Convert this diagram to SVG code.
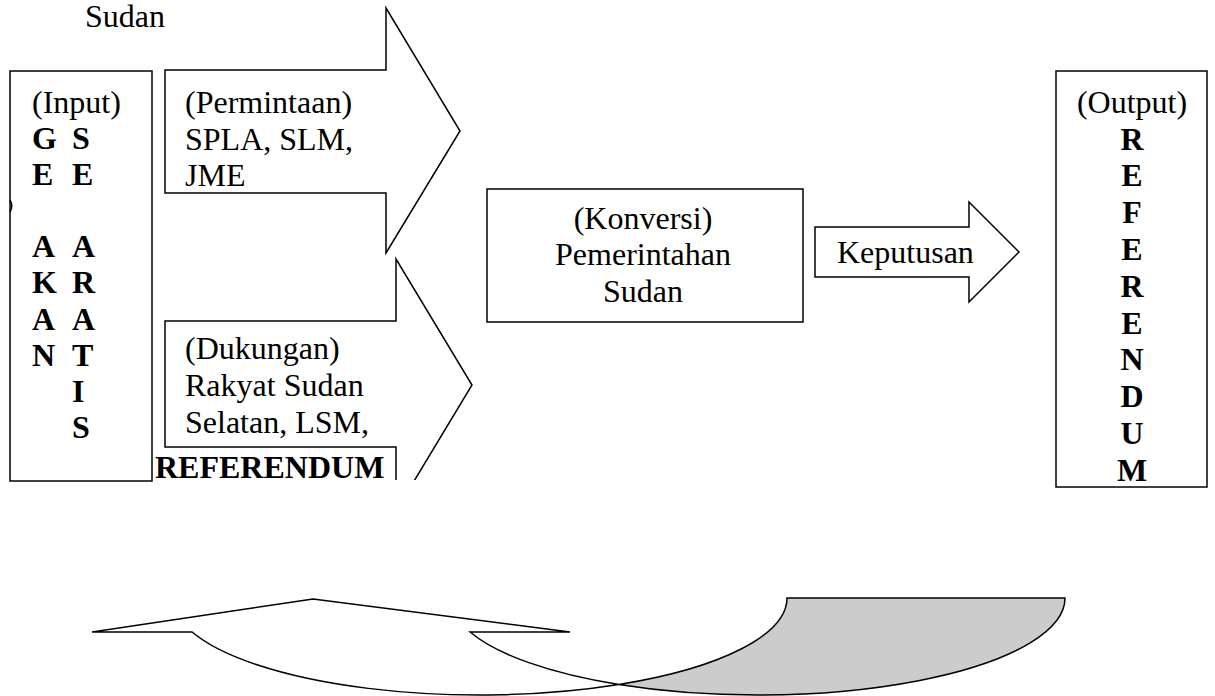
<svg xmlns="http://www.w3.org/2000/svg" width="1215" height="696" viewBox="0 0 1215 696">
<defs>
  <clipPath id="cutDuk"><rect x="0" y="0" width="1215" height="480"/></clipPath>
</defs>
<style>
  .shape { fill: #ffffff; stroke: #000000; stroke-width: 1.5; stroke-linejoin: miter; }
  .gray { fill: #cccccc; stroke: #000000; stroke-width: 1.5; }
  .t { font-family: "Liberation Serif", "Times New Roman", serif; font-size: 32px; fill: #000000; }
  .b { font-family: "Liberation Serif", "Times New Roman", serif; font-size: 32px; font-weight: bold; fill: #000000; }
  .c { text-anchor: middle; }
</style>
<rect width="1215" height="696" fill="#ffffff"/>

<text class="t" x="85" y="27">Sudan</text>

<g id="input">
  <rect class="shape" x="10" y="71" width="142" height="410"/>
  <path d="M10,200 Q13.5,206 10,212" fill="none" stroke="#000" stroke-width="1.5"/>
  <text class="t" x="32" y="113">(Input)</text>
  <g class="b">
    <text x="32" y="148.5">G</text>
    <text x="32" y="184.7">E</text>
    <text x="32" y="257.1">A</text>
    <text x="32" y="293.3">K</text>
    <text x="32" y="329.5">A</text>
    <text x="32" y="365.7">N</text>
    <text x="72" y="148.5">S</text>
    <text x="72" y="184.7">E</text>
    <text x="72" y="257.1">A</text>
    <text x="72" y="293.3">R</text>
    <text x="72" y="329.5">A</text>
    <text x="72" y="365.7">T</text>
    <text x="72" y="401.9">I</text>
    <text x="72" y="438.1">S</text>
  </g>
</g>

<g id="connectors">
  <g id="permintaan">
    <polygon class="shape" points="165,70 386,70 386,8 460,131 386,253 386,193 165,193"/>
    <text class="t" x="185" y="113">(Permintaan)</text>
    <text class="t" x="185" y="149.5">SPLA, SLM,</text>
    <text class="t" x="185" y="186">JME</text>
  </g>
  <g id="dukungan">
    <polygon class="shape" clip-path="url(#cutDuk)" points="165,321 396,321 396,259 472,385 396,511 396,447 165,447"/>
    <text class="t" x="185" y="359">(Dukungan)</text>
    <text class="t" x="185" y="396">Rakyat Sudan</text>
    <text class="t" x="185" y="432.5">Selatan, LSM,</text>
  </g>
  <g id="keputusan">
    <polygon class="shape" points="815,227 969,227 969,202 1019,252 969,302 969,277 815,277"/>
    <text class="t" x="837" y="263">Keputusan</text>
  </g>
  <g id="feedback">
    <path class="shape" d="M92,632 L313,599 L570,632 L470.1,632 A307.2,97 0 0 0 618.8,684.5 A307.2,97 0 0 1 192.1,632 Z"/>
    <path class="gray" d="M618.8,684.5 A307.2,97 0 0 0 1065,598 L787,598 A307.2,97 0 0 1 618.8,684.5 Z"/>
  </g>
</g>

<text class="b" x="155" y="478">REFERENDUM</text>

<g id="konversi">
  <rect class="shape" x="487" y="189" width="316" height="133"/>
  <text class="t c" x="643" y="228.5">(Konversi)</text>
  <text class="t c" x="643" y="265">Pemerintahan</text>
  <text class="t c" x="643" y="301.5">Sudan</text>
</g>

<g id="output">
  <rect class="shape" x="1056" y="71" width="151" height="416"/>
  <text class="t c" x="1132" y="113">(Output)</text>
  <g class="b c">
    <text x="1132" y="149.5">R</text>
    <text x="1132" y="186.3">E</text>
    <text x="1132" y="223.1">F</text>
    <text x="1132" y="259.9">E</text>
    <text x="1132" y="296.7">R</text>
    <text x="1132" y="333.5">E</text>
    <text x="1132" y="370.3">N</text>
    <text x="1132" y="407.1">D</text>
    <text x="1132" y="443.9">U</text>
    <text x="1132" y="480.7">M</text>
  </g>
</g>
</svg>
